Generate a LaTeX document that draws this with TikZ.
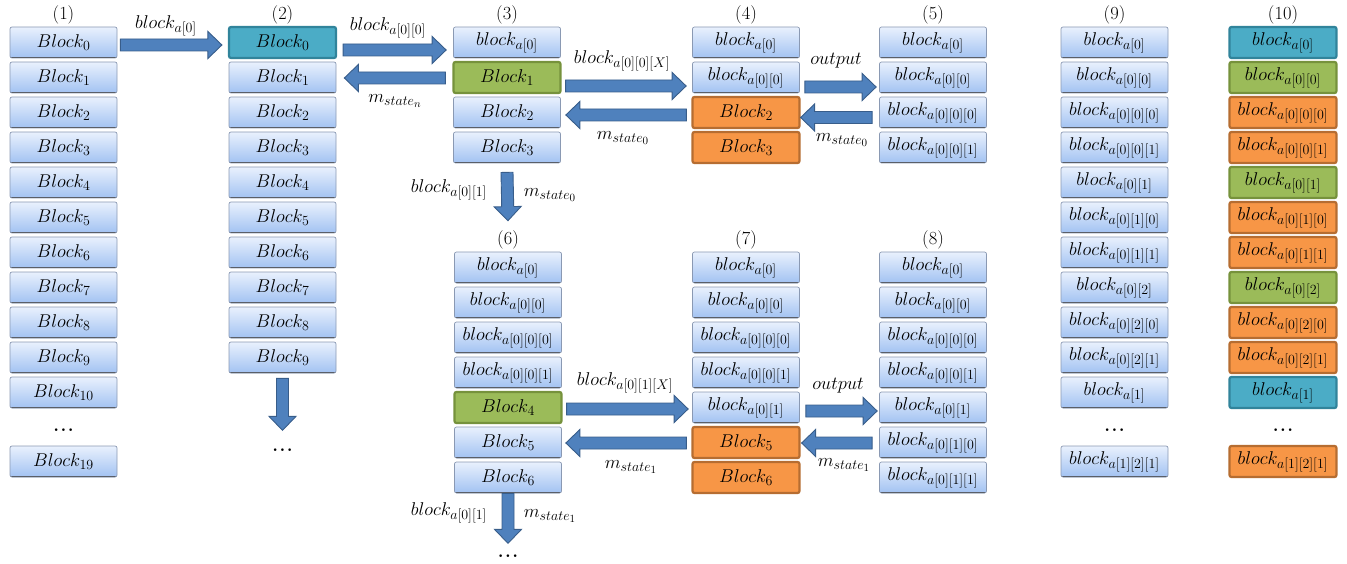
\documentclass[tikz,border=0pt]{standalone}
\usepackage{fix-cm}
\usetikzlibrary{calc}
\DeclareMathSizes{18.5}{18.5}{14}{11}

\definecolor{boxtop}{HTML}{E9F1FD}
\definecolor{boxbot}{HTML}{A2C2F2}
\definecolor{boxline}{HTML}{8A99B3}
\definecolor{tealfill}{HTML}{4BACC6}
\definecolor{tealline}{HTML}{31849B}
\definecolor{greenfill}{HTML}{9BBB59}
\definecolor{greenline}{HTML}{76923C}
\definecolor{orangefill}{HTML}{F79646}
\definecolor{orangeline}{HTML}{B66D31}
\definecolor{arrfill}{HTML}{4F81BD}
\definecolor{arrline}{HTML}{385D8A}

\tikzset{
  txt/.style={font=\fontsize{18.5}{22}\selectfont},
  blk/.style={txt, rectangle, rounded corners=2pt, minimum width=107pt, minimum height=31pt,
    inner sep=0pt},
  bluebox/.style={blk, top color=boxtop, bottom color=boxbot, draw=boxline, line width=0.7pt,
    path picture={\draw[black!75, line width=1.6pt]
      (path picture bounding box.south west) -- (path picture bounding box.south east);}},
  tealbox/.style={blk, fill=tealfill, draw=tealline, line width=2.2pt},
  greenbox/.style={blk, fill=greenfill, draw=greenline, line width=2.2pt},
  orangebox/.style={blk, fill=orangefill, draw=orangeline, line width=2.2pt},
  ttl/.style={txt, inner sep=0pt},
  lbl/.style={txt, inner sep=0pt},
  ellip/.style={txt, inner sep=0pt},
  fatarr/.style={fill=arrfill, draw=arrline, line width=0.9pt, line join=miter}
}

% block arrow from #1 to #2 (body half width 6pt, head half width 13.5pt, head length 14pt)
\newcommand\fatarrow[2]{%
  \path #1 coordinate (fa-s) #2 coordinate (fa-e);
  \path ($(fa-e)!14pt!(fa-s)$) coordinate (fa-h);
  \filldraw[fatarr] ($(fa-s)!6pt!90:(fa-e)$) -- ($(fa-h)!6pt!90:(fa-e)$)
    -- ($(fa-h)!13.5pt!90:(fa-e)$) -- (fa-e) -- ($(fa-h)!13.5pt!-90:(fa-e)$)
    -- ($(fa-h)!6pt!-90:(fa-e)$) -- ($(fa-s)!6pt!-90:(fa-e)$) -- cycle;}

\newcommand\cell[4]{\node[#1] (#2) at (#3) {$#4$};}
\newcommand\moredots{\textbf{.\kern1.5pt.\kern1.5pt.}}

\begin{document}
\begin{tikzpicture}[x=1pt,y=-1pt]
\useasboundingbox (0,0) rectangle (1347,564);

% ---------- titles ----------
\node[ttl] (t1) at (63.5,15) {(1)};
\node[ttl] (t2) at (282.5,15) {(2)};
\node[ttl] (t3) at (507,15) {(3)};
\node[ttl] (t4) at (746,15) {(4)};
\node[ttl] (t5) at (933,15) {(5)};
\node[ttl] (t6) at (508,240) {(6)};
\node[ttl] (t7) at (746,240) {(7)};
\node[ttl] (t8) at (933,240) {(8)};
\node[ttl] (t9) at (1114.5,15) {(9)};
\node[ttl] (t10) at (1283,15) {(10)};

% ---------- column 1 ----------
\foreach \i in {0,...,10}
  \node[bluebox] (c1b\i) at (63.5,42.5+35*\i) {$Block_{\i}$};
\node[ellip] (c1d) at (63.5,430) {\moredots};
\cell{bluebox}{c1b19}{63.5,461.5}{Block_{19}}

% ---------- column 2 ----------
\cell{tealbox}{c2b0}{282.5,42.5}{Block_{0}}
\foreach \i in {1,...,9}
  \node[bluebox] (c2b\i) at (282.5,42.5+35*\i) {$Block_{\i}$};
\node[ellip] (c2d) at (282.5,450) {\moredots};

% ---------- column 3 ----------
\cell{bluebox}{c3b0}{507,42.5}{block_{a[0]}}
\cell{greenbox}{c3b1}{507,77.5}{Block_{1}}
\cell{bluebox}{c3b2}{507,112.5}{Block_{2}}
\cell{bluebox}{c3b3}{507,147.5}{Block_{3}}

% ---------- column 4 ----------
\cell{bluebox}{c4b0}{746,42.5}{block_{a[0]}}
\cell{bluebox}{c4b1}{746,77.5}{block_{a[0][0]}}
\cell{orangebox}{c4b2}{746,112.5}{Block_{2}}
\cell{orangebox}{c4b3}{746,147.5}{Block_{3}}

% ---------- column 5 ----------
\cell{bluebox}{c5b0}{933,42.5}{block_{a[0]}}
\cell{bluebox}{c5b1}{933,77.5}{block_{a[0][0]}}
\cell{bluebox}{c5b2}{933,112.5}{block_{a[0][0][0]}}
\cell{bluebox}{c5b3}{933,147.5}{block_{a[0][0][1]}}

% ---------- column 6 ----------
\cell{bluebox}{c6b0}{508,267.5}{block_{a[0]}}
\cell{bluebox}{c6b1}{508,302.5}{block_{a[0][0]}}
\cell{bluebox}{c6b2}{508,337.5}{block_{a[0][0][0]}}
\cell{bluebox}{c6b3}{508,372.5}{block_{a[0][0][1]}}
\cell{greenbox}{c6b4}{508,407.5}{Block_{4}}
\cell{bluebox}{c6b5}{508,442.5}{Block_{5}}
\cell{bluebox}{c6b6}{508,477.5}{Block_{6}}
\node[ellip] (c6d) at (508,556) {\moredots};

% ---------- column 7 ----------
\cell{bluebox}{c7b0}{746,267.5}{block_{a[0]}}
\cell{bluebox}{c7b1}{746,302.5}{block_{a[0][0]}}
\cell{bluebox}{c7b2}{746,337.5}{block_{a[0][0][0]}}
\cell{bluebox}{c7b3}{746,372.5}{block_{a[0][0][1]}}
\cell{bluebox}{c7b4}{746,407.5}{block_{a[0][1]}}
\cell{orangebox}{c7b5}{746,442.5}{Block_{5}}
\cell{orangebox}{c7b6}{746,477.5}{Block_{6}}

% ---------- column 8 ----------
\cell{bluebox}{c8b0}{933,267.5}{block_{a[0]}}
\cell{bluebox}{c8b1}{933,302.5}{block_{a[0][0]}}
\cell{bluebox}{c8b2}{933,337.5}{block_{a[0][0][0]}}
\cell{bluebox}{c8b3}{933,372.5}{block_{a[0][0][1]}}
\cell{bluebox}{c8b4}{933,407.5}{block_{a[0][1]}}
\cell{bluebox}{c8b5}{933,442.5}{block_{a[0][1][0]}}
\cell{bluebox}{c8b6}{933,477.5}{block_{a[0][1][1]}}

% ---------- column 9 ----------
\cell{bluebox}{c9b0}{1114.5,42.5}{block_{a[0]}}
\cell{bluebox}{c9b1}{1114.5,77.5}{block_{a[0][0]}}
\cell{bluebox}{c9b2}{1114.5,112.5}{block_{a[0][0][0]}}
\cell{bluebox}{c9b3}{1114.5,147.5}{block_{a[0][0][1]}}
\cell{bluebox}{c9b4}{1114.5,182.5}{block_{a[0][1]}}
\cell{bluebox}{c9b5}{1114.5,217.5}{block_{a[0][1][0]}}
\cell{bluebox}{c9b6}{1114.5,252.5}{block_{a[0][1][1]}}
\cell{bluebox}{c9b7}{1114.5,287.5}{block_{a[0][2]}}
\cell{bluebox}{c9b8}{1114.5,322.5}{block_{a[0][2][0]}}
\cell{bluebox}{c9b9}{1114.5,357.5}{block_{a[0][2][1]}}
\cell{bluebox}{c9b10}{1114.5,392.5}{block_{a[1]}}
\node[ellip] (c9d) at (1114.5,430) {\moredots};
\cell{bluebox}{c9b11}{1114.5,461.5}{block_{a[1][2][1]}}

% ---------- column 10 ----------
\cell{tealbox}{c10b0}{1283,42.5}{block_{a[0]}}
\cell{greenbox}{c10b1}{1283,77.5}{block_{a[0][0]}}
\cell{orangebox}{c10b2}{1283,112.5}{block_{a[0][0][0]}}
\cell{orangebox}{c10b3}{1283,147.5}{block_{a[0][0][1]}}
\cell{greenbox}{c10b4}{1283,182.5}{block_{a[0][1]}}
\cell{orangebox}{c10b5}{1283,217.5}{block_{a[0][1][0]}}
\cell{orangebox}{c10b6}{1283,252.5}{block_{a[0][1][1]}}
\cell{greenbox}{c10b7}{1283,287.5}{block_{a[0][2]}}
\cell{orangebox}{c10b8}{1283,322.5}{block_{a[0][2][0]}}
\cell{orangebox}{c10b9}{1283,357.5}{block_{a[0][2][1]}}
\cell{tealbox}{c10b10}{1283,392.5}{block_{a[1]}}
\node[ellip] (c10d) at (1283,430) {\moredots};
\cell{orangebox}{c10b11}{1283,461.5}{block_{a[1][2][1]}}

% ---------- arrows, upper part ----------
\fatarrow{($(c1b0.east)+(3,2.5)$)}{($(c2b0.west)+(-6,2.5)$)}
\fatarrow{($(c2b0.east)+(6,7.5)$)}{($(c3b0.west)+(-7,7.5)$)}
\fatarrow{($(c3b1.west)+(-7,0.5)$)}{($(c2b1.east)+(8,0.5)$)}
\fatarrow{($(c3b1.east)+(4,8.5)$)}{($(c4b1.west)+(-6,8.5)$)}
\fatarrow{($(c4b2.west)+(-5,2.5)$)}{($(c3b2.east)+(5,2.5)$)}
\fatarrow{($(c4b1.east)+(5,9.5)$)}{($(c5b1.west)+(-3,9.5)$)}
\fatarrow{($(c5b2.west)+(-7,5)$)}{($(c4b2.east)+(0,5)$)}
\fatarrow{($(c3b3.south)+(0,9)$)}{($(c6b0.north)+(0,-31)$)}
\fatarrow{($(c2b9.south)+(0,5)$)}{($(c2b9.south)+(0,57)$)}

% ---------- arrows, lower part ----------
\fatarrow{($(c6b4.east)+(4,1.5)$)}{($(c7b4.west)+(-4,1.5)$)}
\fatarrow{($(c7b5.west)+(-5,0.5)$)}{($(c6b5.east)+(4,0.5)$)}
\fatarrow{($(c7b4.east)+(6,3.5)$)}{($(c8b4.west)+(-2,3.5)$)}
\fatarrow{($(c8b5.west)+(-7,0.5)$)}{($(c7b5.east)+(1,0.5)$)}
\fatarrow{($(c6b6.south)+(0,0)$)}{($(c6b6.south)+(0,50)$)}

% ---------- arrow labels ----------
\node[lbl] (l12) at (166,26) {$block_{a[0]}$};
\node[lbl] (l23) at (388,28) {$block_{a[0][0]}$};
\node[lbl] (l32) at (395,101) {$m_{state_{n}}$};
\node[lbl] (l34) at (622,61) {$block_{a[0][0][X]}$};
\node[lbl] (l43) at (623,138) {$m_{state_{0}}$};
\node[lbl] (l45) at (836,61) {$output$};
\node[lbl] (l54) at (842,140) {$m_{state_{0}}$};
\node[lbl] (l3l) at (449,190) {$block_{a[0][1]}$};
\node[lbl] (l3r) at (550,195) {$m_{state_{0}}$};
\node[lbl] (l67) at (625,383) {$block_{a[0][1][X]}$};
\node[lbl] (l76) at (631,467) {$m_{state_{1}}$};
\node[lbl] (l78) at (838,386) {$output$};
\node[lbl] (l87) at (844,465) {$m_{state_{1}}$};
\node[lbl] (l6l) at (449,513) {$block_{a[0][1]}$};
\node[lbl] (l6r) at (550,516) {$m_{state_{1}}$};
\end{tikzpicture}
\end{document}
